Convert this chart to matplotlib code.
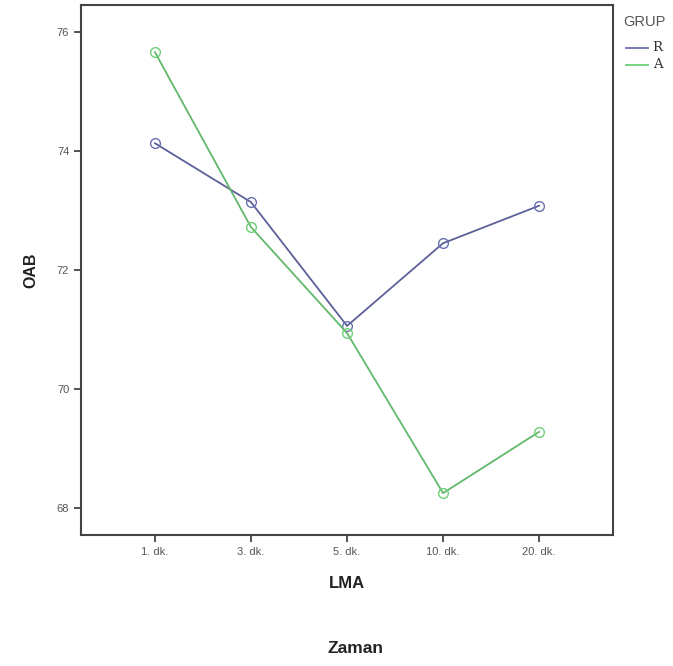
import matplotlib.pyplot as plt

# Data
times = ['1. dk.', '3. dk.', '5. dk.', '10. dk.', '20. dk.']
r_values = [74.13, 73.14, 71.06, 72.45, 73.08]
a_values = [75.66, 72.72, 70.94, 68.25, 69.28]
y_ticks = [68, 70, 72, 74, 76]

plt.rcParams['font.family'] = ['Liberation Sans', 'DejaVu Sans']

fig = plt.figure(figsize=(6.73, 6.66), dpi=100)
ax = fig.add_axes([0.1204, 0.1967, 0.7905, 0.7958])

x = list(range(len(times)))
ax.plot(x, r_values, color='#5c6099', lw=1.3, marker='o', ms=7,
        mfc='none', mec='#6a6fb0', mew=1.0, label='R')
ax.plot(x, a_values, color='#62b86a', lw=1.3, marker='o', ms=7,
        mfc='none', mec='#6fcf77', mew=1.0, label='A')

ax.set_xlim(-0.77, 4.77)
ax.set_ylim(67.546, 76.454)
ax.set_xticks(x)
ax.set_xticklabels(times)
ax.set_yticks(y_ticks)

for s in ax.spines.values():
    s.set_color('#444444')
    s.set_linewidth(1.5)
ax.tick_params(direction='out', length=5, width=1.3, color='#444444',
               labelsize=8, labelcolor='#555555')

ax.set_xlabel('LMA', fontsize=12, fontweight='bold', labelpad=14,
              color='#222222')
ax.set_ylabel('OAB', fontsize=11.5, fontweight='bold', labelpad=13,
              color='#222222')

fig.text(0.528, 0.027, 'Zaman', fontsize=12.5, fontweight='bold',
         ha='center', va='center', color='#222222')

# legend
fig.text(0.926, 0.967, 'GRUP', fontsize=10.5, color='#555555', va='center')
fig.lines.append(plt.Line2D([0.930, 0.963], [0.928, 0.928], color='#6a6fb0',
                            lw=1.3, transform=fig.transFigure))
fig.lines.append(plt.Line2D([0.930, 0.963], [0.903, 0.903], color='#6fcf77',
                            lw=1.3, transform=fig.transFigure))
fig.text(0.977, 0.928, 'R', fontsize=9.5, family='DejaVu Serif', color='#333333',
         va='center', ha='center')
fig.text(0.977, 0.903, 'A', fontsize=9.5, family='DejaVu Serif', color='#333333',
         va='center', ha='center')

fig.savefig('out.png', dpi=100)
